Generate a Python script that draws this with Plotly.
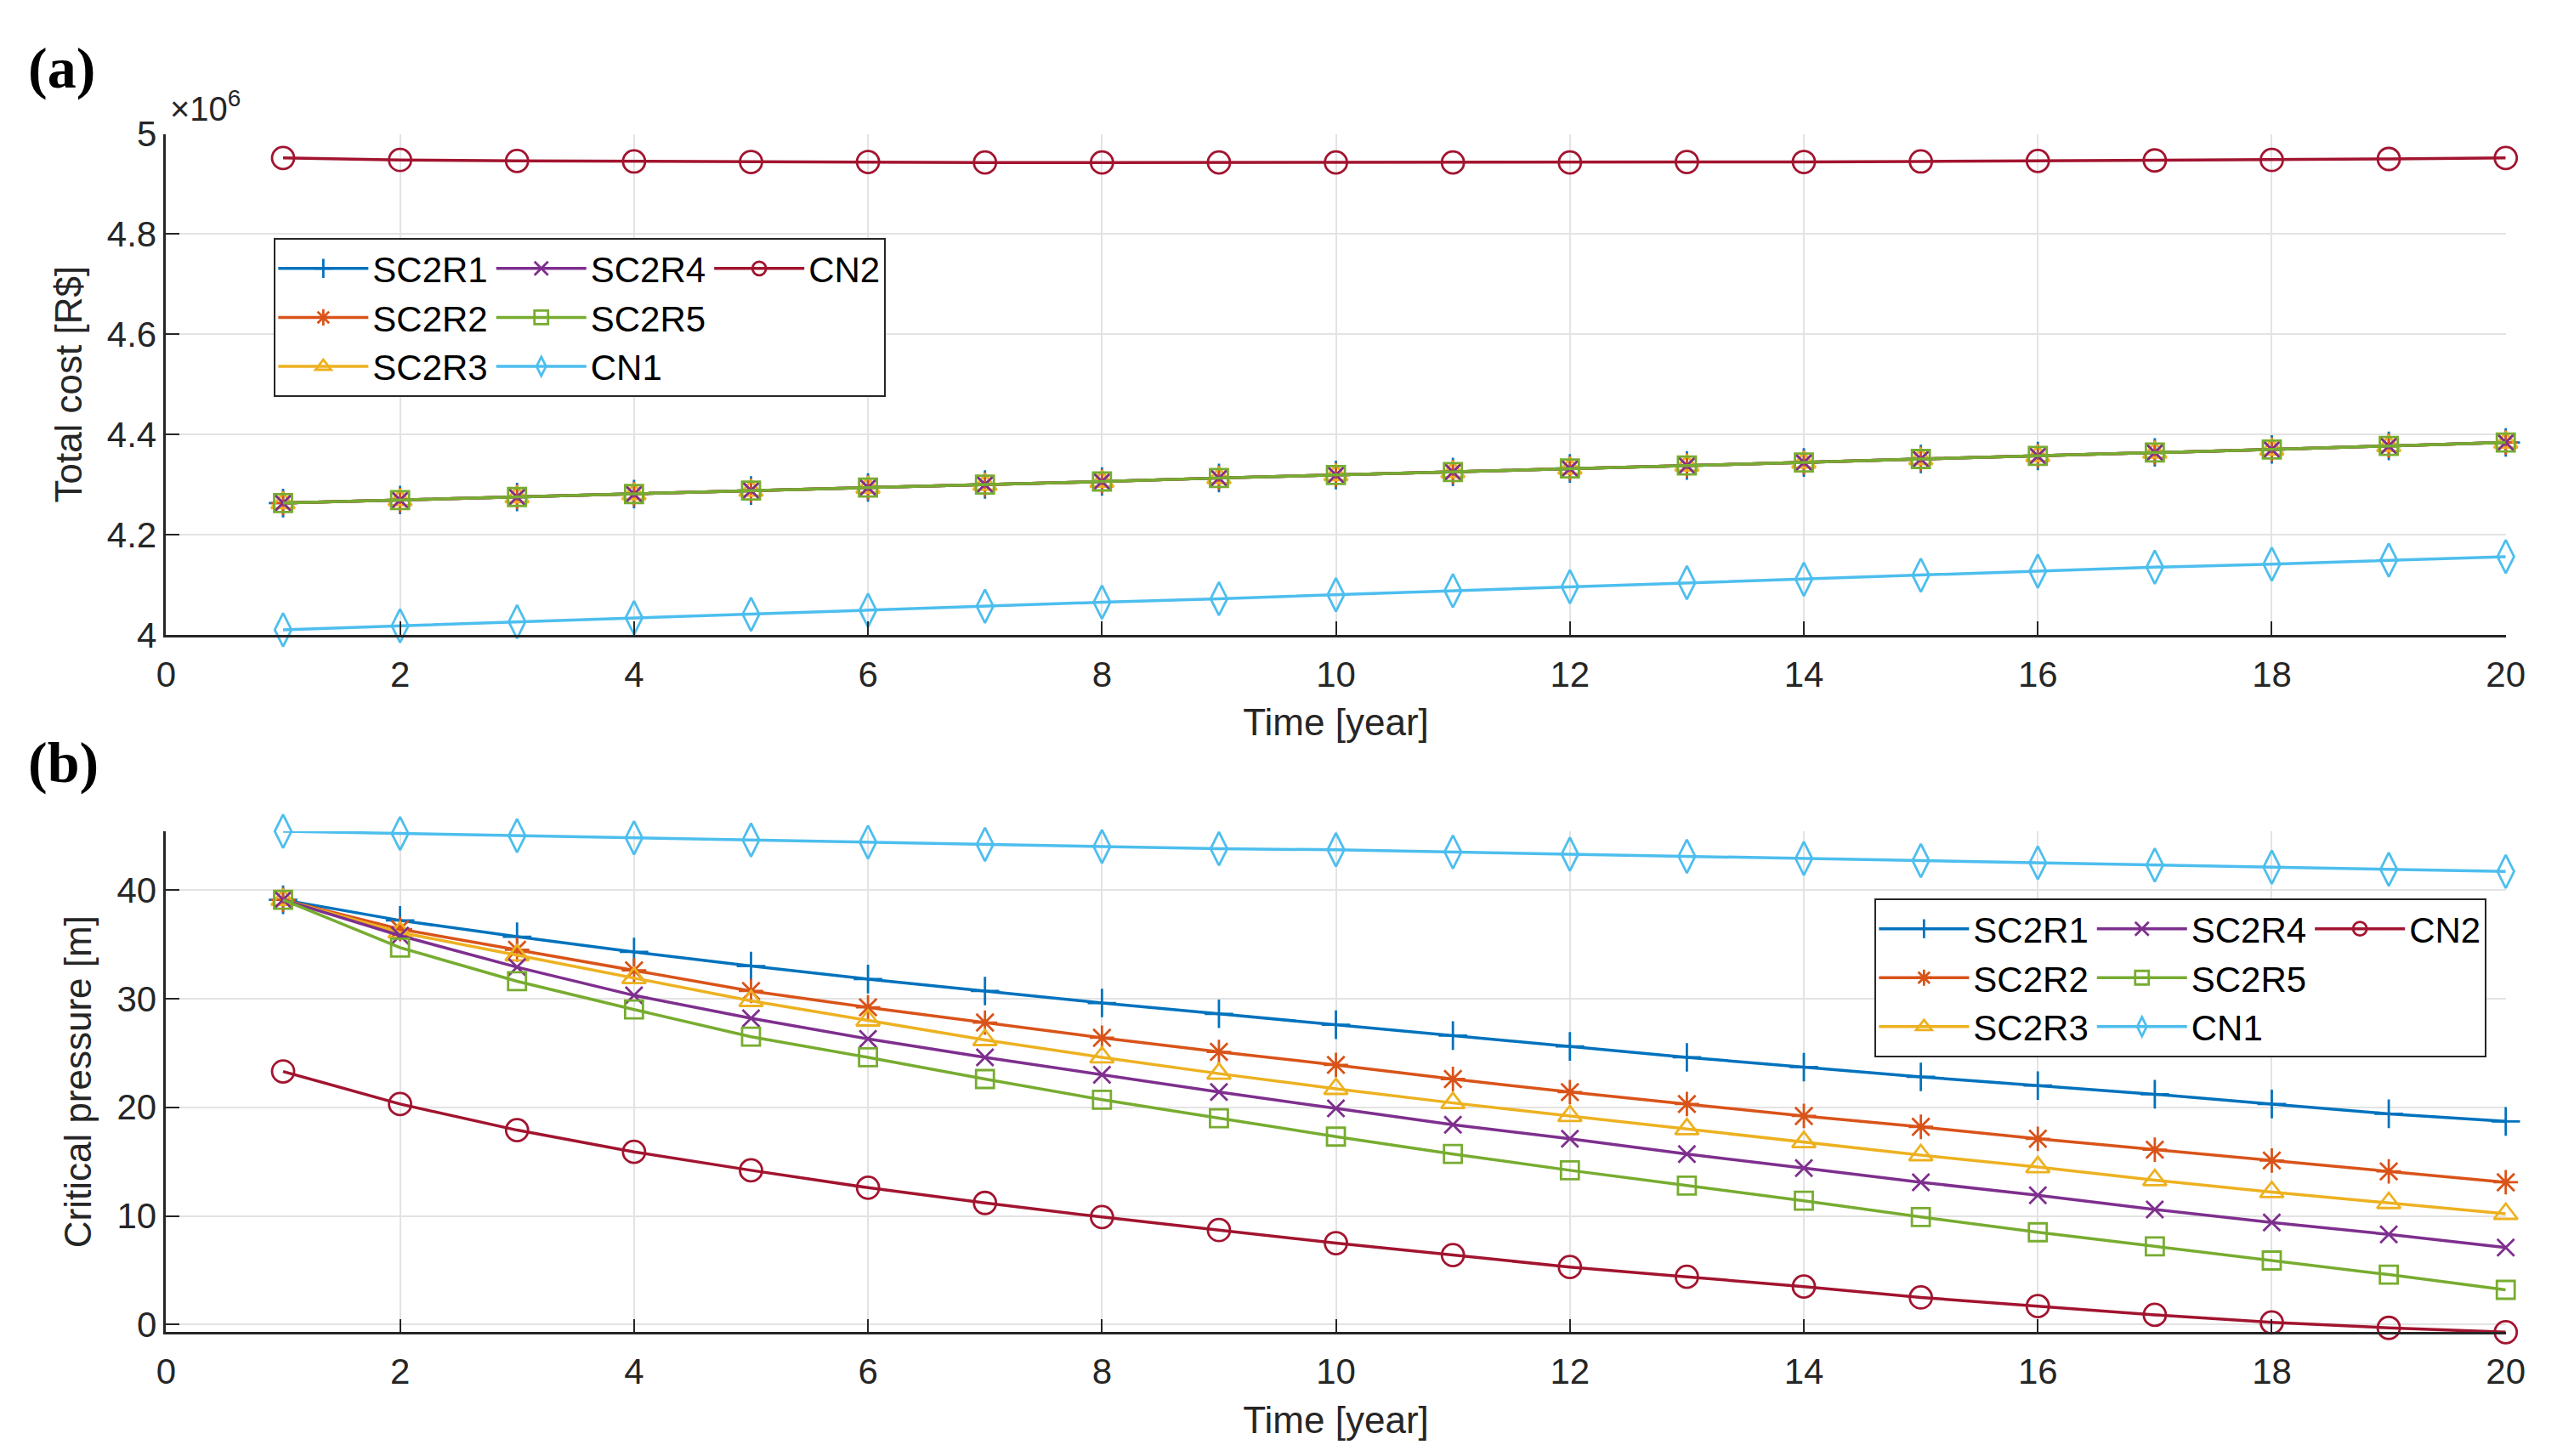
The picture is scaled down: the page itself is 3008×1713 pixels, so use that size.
import plotly.graph_objects as go

years = [1, 2, 3, 4, 5, 6, 7, 8, 9, 10, 11, 12, 13, 14, 15, 16, 17, 18, 19, 20]
series_names = ["SC2R1", "SC2R2", "SC2R3", "SC2R4", "SC2R5", "CN1", "CN2"]

# Panel (a): total cost, in units of 10^6 R$
cost_sc2r1 = [4.263, 4.269, 4.275, 4.281, 4.288, 4.294, 4.300, 4.306, 4.313, 4.319,
              4.325, 4.332, 4.338, 4.344, 4.351, 4.357, 4.364, 4.370, 4.377, 4.384]
cost_sc2r2 = list(cost_sc2r1)
cost_sc2r3 = list(cost_sc2r1)
cost_sc2r4 = list(cost_sc2r1)
cost_sc2r5 = list(cost_sc2r1)
cost_cn1 = [4.010, 4.018, 4.026, 4.034, 4.041, 4.049, 4.057, 4.065, 4.072, 4.080,
            4.088, 4.096, 4.104, 4.111, 4.119, 4.127, 4.135, 4.141, 4.149, 4.156]
cost_cn2 = [4.952, 4.948, 4.946, 4.945, 4.944, 4.944, 4.943, 4.943, 4.943, 4.943,
            4.943, 4.943, 4.944, 4.944, 4.945, 4.946, 4.947, 4.948, 4.950, 4.952]

# Panel (b): critical pressure [m]
pres_sc2r1 = [39.1, 37.2, 35.7, 34.3, 33.0, 31.8, 30.7, 29.6, 28.6, 27.6,
              26.6, 25.6, 24.6, 23.7, 22.8, 22.0, 21.2, 20.3, 19.4, 18.7]
pres_sc2r2 = [39.1, 36.4, 34.5, 32.6, 30.7, 29.2, 27.8, 26.4, 25.1, 23.9,
              22.6, 21.4, 20.3, 19.2, 18.2, 17.1, 16.1, 15.1, 14.1, 13.1]
pres_sc2r3 = [39.1, 36.1, 34.0, 31.9, 29.8, 28.0, 26.2, 24.6, 23.1, 21.7,
              20.4, 19.2, 18.0, 16.8, 15.6, 14.5, 13.3, 12.2, 11.2, 10.2]
pres_sc2r4 = [39.1, 35.8, 32.9, 30.3, 28.2, 26.3, 24.6, 23.0, 21.4, 19.9,
              18.4, 17.1, 15.7, 14.4, 13.1, 11.9, 10.6, 9.4, 8.3, 7.1]
pres_sc2r5 = [39.1, 34.7, 31.6, 29.0, 26.5, 24.6, 22.6, 20.7, 19.0, 17.3,
              15.7, 14.2, 12.8, 11.4, 9.9, 8.5, 7.2, 5.9, 4.6, 3.2]
pres_cn1 = [45.4, 45.2, 45.0, 44.8, 44.6, 44.4, 44.2, 44.0, 43.8, 43.7,
            43.5, 43.3, 43.1, 42.9, 42.7, 42.5, 42.3, 42.1, 41.9, 41.7]
pres_cn2 = [23.3, 20.3, 17.9, 15.9, 14.2, 12.6, 11.2, 9.9, 8.7, 7.5,
            6.4, 5.3, 4.4, 3.5, 2.5, 1.7, 0.9, 0.2, -0.3, -0.7]

x_ticks = [0, 2, 4, 6, 8, 10, 12, 14, 16, 18, 20]
cost_ticks = [4.0, 4.2, 4.4, 4.6, 4.8, 5.0]
cost_tick_text = ["4", "4.2", "4.4", "4.6", "4.8", "5"]
pres_ticks = [0, 10, 20, 30, 40]

cost_data = [cost_sc2r1, cost_sc2r2, cost_sc2r3, cost_sc2r4, cost_sc2r5, cost_cn1, cost_cn2]
pres_data = [pres_sc2r1, pres_sc2r2, pres_sc2r3, pres_sc2r4, pres_sc2r5, pres_cn1, pres_cn2]

colors = ["#0072BD", "#D95319", "#EDB120", "#7E2F8E", "#77AC30", "#4DBEEE", "#A2142F"]
symbols = ["cross-thin-open", "asterisk-open", "triangle-up-open", "x-thin-open",
           "square-open", "diamond-tall-open", "circle-open"]
sizes = [24, 24, 24, 20, 21, 28, 26]
groups = ["g1", "g1", "g1", "g2", "g2", "g2", "g3"]

FONT = "Liberation Sans, Arial, sans-serif"
AX = "#262626"

fig = go.Figure()
for panel, (data, xa, ya, leg) in enumerate([(cost_data, "x", "y", "legend"),
                                             (pres_data, "x2", "y2", "legend2")]):
    for i, name in enumerate(series_names):
        fig.add_trace(go.Scatter(
            x=years, y=data[i], name=name, mode="lines+markers",
            xaxis=xa, yaxis=ya, legend=leg, legendgroup=groups[i] + str(panel),
            line=dict(color=colors[i], width=3.5),
            marker=dict(symbol=symbols[i], size=sizes[i], color=colors[i],
                        line=dict(color=colors[i], width=2.8)),
            cliponaxis=False,
        ))

axis_common = dict(
    showline=True, linecolor=AX, linewidth=2.5, ticks="inside", ticklen=16,
    tickwidth=2, tickcolor=AX, showgrid=True, gridcolor="#e3e3e3", gridwidth=2,
    zeroline=False, automargin=False, tickfont=dict(family=FONT, size=42, color=AX),
    title_font=dict(family=FONT, size=44, color=AX),
)

legend_common = dict(xanchor="left", yanchor="top", orientation="h",
                     traceorder="grouped", tracegroupgap=0, itemwidth=106,
                     bgcolor="white", bordercolor=AX, borderwidth=2,
                     font=dict(family=FONT, size=42, color="black"))

XD = [0.0623, 0.9773]
fig.update_layout(
    template="none",
    width=3008, height=1713, plot_bgcolor="white", paper_bgcolor="white",
    margin=dict(l=0, r=0, t=0, b=0, pad=0), showlegend=True,
    xaxis=dict(domain=XD, range=[0, 20], tickvals=x_ticks, anchor="y",
               ticklabelstandoff=8,
               title=dict(text="Time [year]", standoff=19), **axis_common),
    yaxis=dict(domain=[0.5687, 0.9127], range=[4.0, 5.0], tickvals=cost_ticks,
               ticktext=cost_tick_text, anchor="x",
               title=dict(text="Total cost [R$]", standoff=16), **axis_common),
    xaxis2=dict(domain=XD, range=[0, 20], tickvals=x_ticks, anchor="y2",
                ticklabelstandoff=8,
                title=dict(text="Time [year]", standoff=19), **axis_common),
    yaxis2=dict(domain=[0.0897, 0.4337], range=[-0.7, 45.4], tickvals=pres_ticks,
                anchor="x2", title=dict(text="Critical pressure [m]", standoff=17),
                **axis_common),
    legend=dict(x=0.1045, y=0.8412, **legend_common),
    legend2=dict(x=0.7305, y=0.3877, **legend_common),
    annotations=[
        dict(text="<b>(a)</b>", x=0.0077, y=0.958, xref="paper", yref="paper",
             xanchor="left", yanchor="middle", showarrow=False,
             font=dict(family="Liberation Serif, Times New Roman, serif", size=68, color="black")),
        dict(text="<b>(b)</b>", x=0.0077, y=0.481, xref="paper", yref="paper",
             xanchor="left", yanchor="middle", showarrow=False,
             font=dict(family="Liberation Serif, Times New Roman, serif", size=68, color="black")),
        dict(text="×10<sup>6</sup>", x=0.063, y=0.916, xref="paper", yref="paper",
             xanchor="left", yanchor="bottom", showarrow=False,
             font=dict(family=FONT, size=40, color=AX)),
    ],
)

fig.write_html("out.html")
